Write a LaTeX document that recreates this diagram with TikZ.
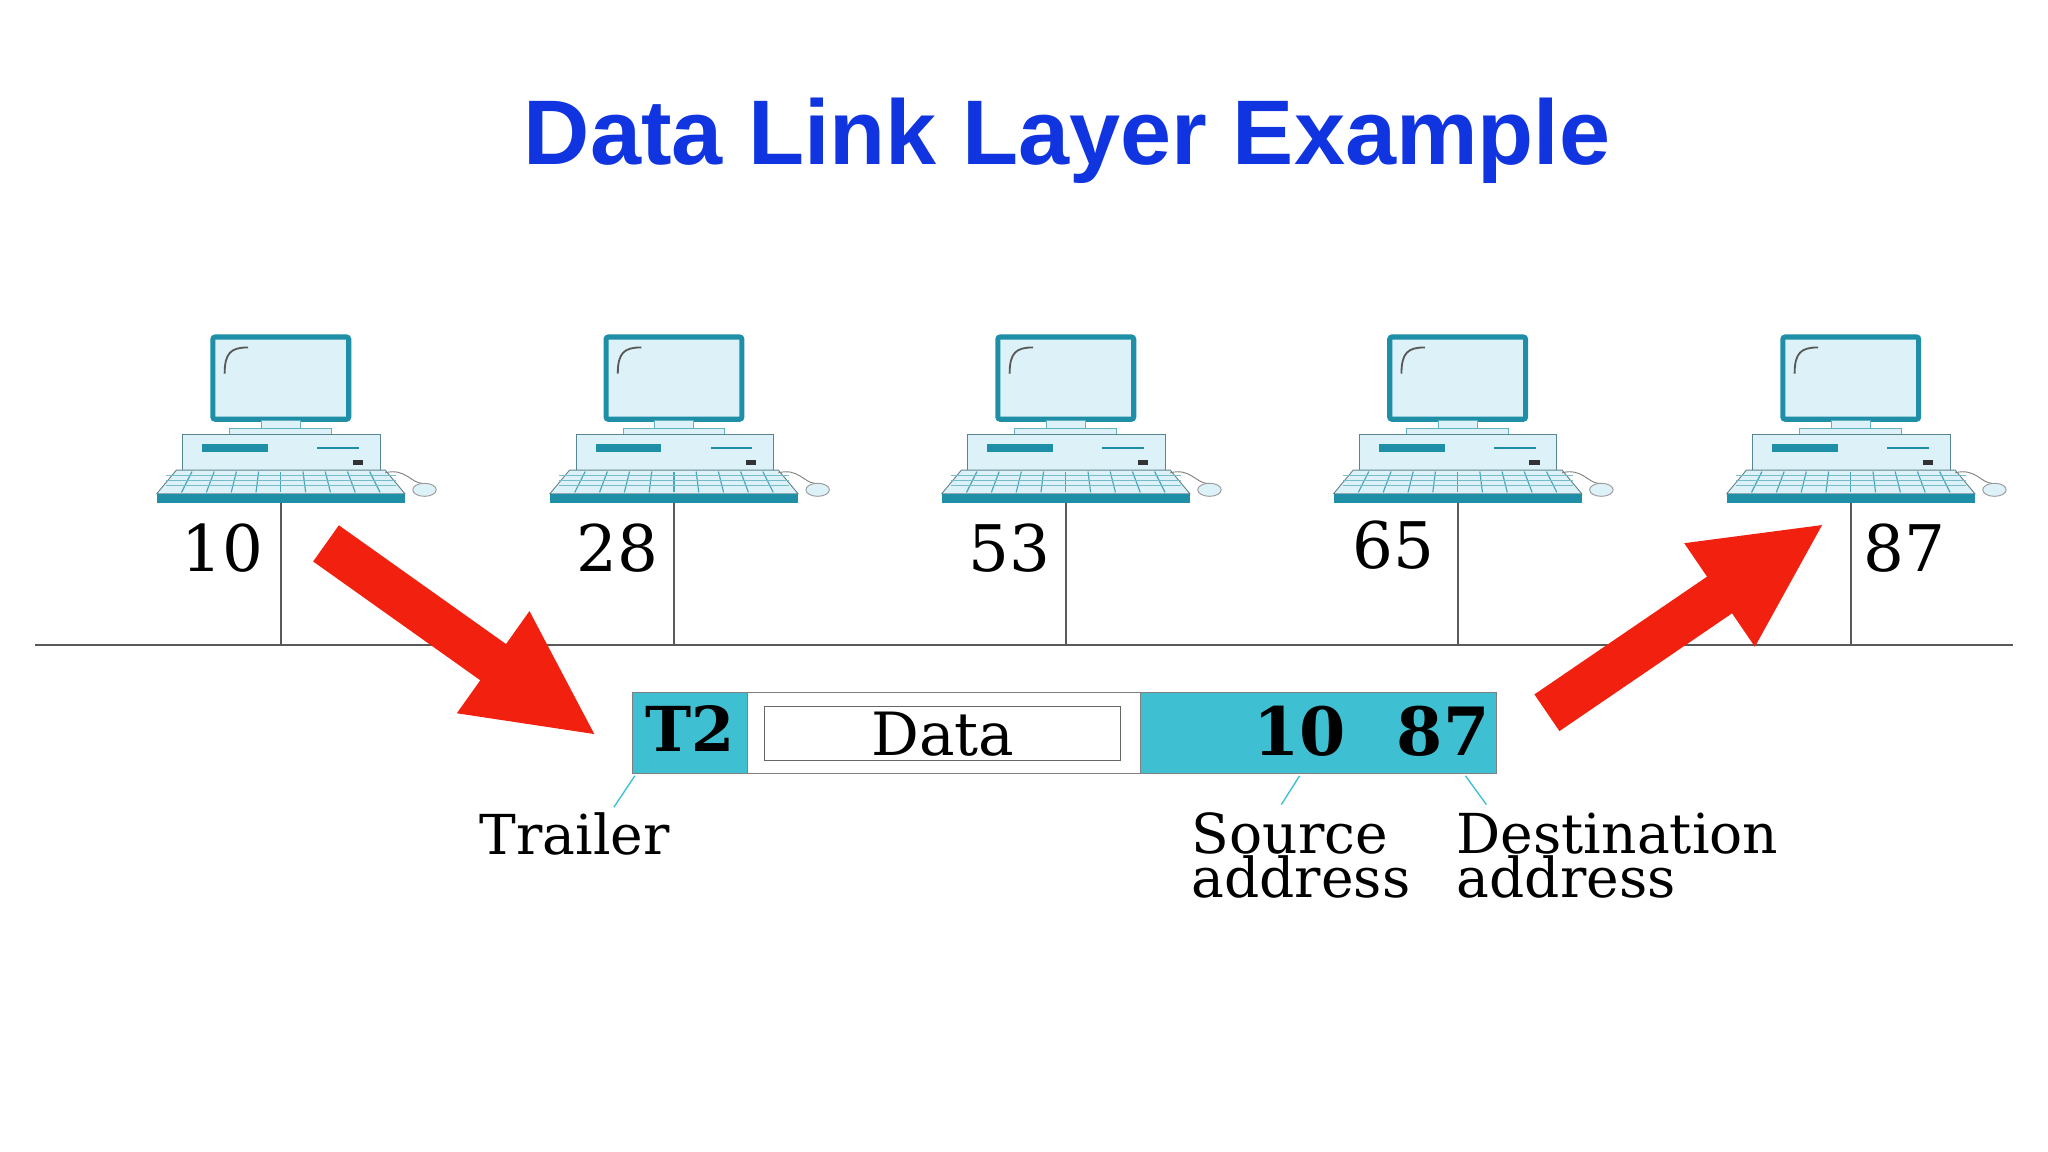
\documentclass[tikz,border=0pt]{standalone}
\usepackage{fontspec}
\setmainfont{DejaVu Serif}
\newfontfamily\titlefont{Liberation Sans}
\definecolor{teal1}{HTML}{1E8FA6}
\definecolor{tealf}{HTML}{3FC0D2}
\definecolor{lightf}{HTML}{DCF1F8}
\definecolor{redA}{HTML}{F2200F}
\definecolor{blueT}{HTML}{1034E0}
\tikzset{
  pc/.pic={
    % monitor
    \draw[teal1,line width=2.2pt,fill=lightf,rounded corners=1pt] (-52,0) rectangle (52,63);
    \draw[gray!70!black,line width=0.8pt] (-43,28) .. controls (-43,12) and (-38,8) .. (-25,8);
    \draw[teal1!70,fill=lightf] (-15,64) rectangle (15,70);
    \draw[teal1!70,fill=lightf] (-39,70) rectangle (39,75);
    % case
    \draw[gray!60!teal1,fill=lightf] (-75,75) rectangle (76,102);
    \fill[teal1] (-60,82) rectangle (-10,88);
    \draw[teal1,line width=1pt] (28,85) -- (60,85);
    \fill[black!80] (55,94) rectangle (63,98);
    % keyboard
    \draw[gray!70!teal1,fill=lightf] (-80,102) -- (80,102) -- (95,120) -- (-95,120) -- cycle;
    \foreach \i in {-4,...,4} \draw[teal1!80,line width=0.5pt] (\i*17,103) -- (\i*19,119);
    \foreach \j in {106,110,114} \draw[teal1!60,line width=0.4pt] (-88,\j) -- (88,\j);
    \fill[teal1] (-95,120) rectangle (95,127);
    % mouse
    \draw[gray] (80,104) .. controls (95,100) and (100,112) .. (108,112);
    \draw[gray!80,fill=lightf] (110,117) ellipse (9 and 5);
  }
}
\begin{document}
\begin{tikzpicture}[x=0.02cm,y=-0.02cm,
  num/.style={font=\fontsize{28}{28}\selectfont},
  lab/.style={font=\fontsize{24}{19}\selectfont,align=left,inner sep=0pt},
  redarrow/.style={fill=redA,draw=none},
  lead/.style={draw=tealf,line width=0.6pt}]
\useasboundingbox (0,0) rectangle (1568,882);
\node[font=\titlefont\bfseries\fontsize{40}{40}\selectfont,text=blueT] (title) at (817,108) {Data Link Layer Example};
% bus
\coordinate (busL) at (27,494);
\coordinate (busR) at (1541,494);
\draw[gray!70!black,line width=0.8pt] (busL) -- (busR);
\foreach \x/\n [count=\k] in {215/10,516/28,816/53,1116/65,1417/87}{
  \pic at (\x,258) {pc};
  \coordinate (k\k) at (\x,385);
  \coordinate (b\k) at (\x,494);
  \draw[gray!70!black,line width=0.8pt] (k\k) -- (b\k);
}
\node[num] (n10) at (170,420) {10};
\node[num] (n28) at (473,420) {28};
\node[num] (n53) at (773,420) {53};
\node[num] (n65) at (1067,417) {65};
\node[num] (n87) at (1458,420) {87};
% arrows
\begin{scope}[shift={(455,562)},rotate=144.6]
\path[redarrow] (0,0) -- (95,-48) -- (95,-17) -- (252,-17) -- (252,17) -- (95,17) -- (95,48) -- cycle;
\end{scope}
\begin{scope}[shift={(1395,402)},rotate=34.3]
\path[redarrow] (0,0) -- (-95,-48) -- (-95,-17) -- (-255,-17) -- (-255,17) -- (-95,17) -- (-95,48) -- cycle;
\end{scope}
% frame
\draw[gray,fill=tealf] (484,530) rectangle (1146,592);
\draw[gray,fill=white] (572,530) rectangle (873,592);
\draw[gray!80!black,fill=white] (585,541) rectangle (858,582);
\node[font=\bfseries\fontsize{27}{27}\selectfont] (t2) at (528,558) {T2};
\node[font=\fontsize{26}{26}\selectfont] (data) at (722,562) {Data};
\node[font=\bfseries\fontsize{29}{29}\selectfont] (src) at (995,560) {10};
\node[font=\bfseries\fontsize{29}{29}\selectfont] (dst) at (1105,560) {87};
\node[lab,anchor=north west] (trl) at (367,622) {Trailer};
\node[lab,anchor=north west] (sa) at (912,622) {Source\\address};
\node[lab,anchor=north west] (da) at (1115,622) {Destination\\address};
\draw[lead] (486,594) -- (470,618);
\draw[lead] (995,594) -- (981,616);
\draw[lead] (1122,594) -- (1138,616);
\end{tikzpicture}
\end{document}
